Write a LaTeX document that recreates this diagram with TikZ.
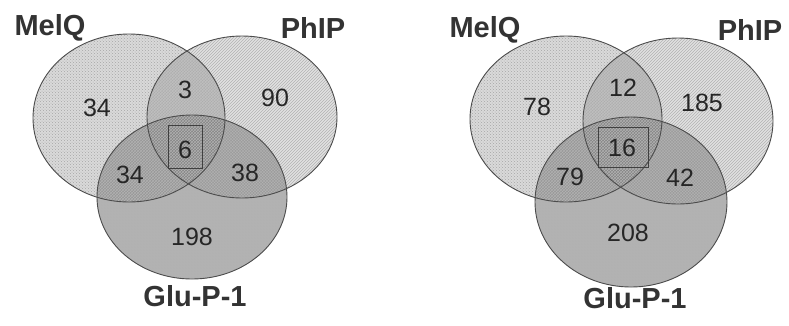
\documentclass[tikz,border=0pt]{standalone}
\usepackage{fontspec}
\setmainfont{Liberation Sans}
\usetikzlibrary{patterns}
\tikzset{
  setlabel/.style={font=\fontsize{29}{30}\selectfont\bfseries, text=black!80, inner sep=0pt},
  num/.style={font=\fontsize{25}{26}\selectfont, text=black!85, inner sep=0pt},
  corebox/.style={draw=black!75, line width=0.8pt, inner sep=0pt},
  outline/.style={draw=black!70, line width=0.9pt},
  fmel/.style={fill=black, fill opacity=0.15},
  fphi/.style={fill=black, fill opacity=0.12},
  fglu/.style={fill=black, fill opacity=0.30},
}
\begin{document}
\begin{tikzpicture}[x=1pt,y=-1pt]
\useasboundingbox (0,0) rectangle (789,325);
% ---------- left diagram ----------
\fill[fmel] (129,118) ellipse [x radius=96, y radius=84];
\fill[pattern=crosshatch dots, pattern color=black!35] (129,118) ellipse [x radius=96, y radius=84];
\fill[fphi] (242,117) ellipse [x radius=95, y radius=81];
\fill[pattern=north east lines, pattern color=black!30] (242,117) ellipse [x radius=95, y radius=81];
\fill[fglu] (192,197) ellipse [x radius=95, y radius=82];
\fill[pattern=crosshatch, pattern color=black!30] (192,197) ellipse [x radius=95, y radius=82];
\draw[outline] (129,118) ellipse [x radius=96, y radius=84];
\draw[outline] (242,117) ellipse [x radius=95, y radius=81];
\draw[outline] (192,197) ellipse [x radius=95, y radius=82];
\node[setlabel] (lmel) at (50,28) {MelQ};
\node[setlabel] (lphi) at (313,28) {PhIP};
\node[setlabel] (lglu) at (195,296) {Glu-P-1};
\node[num] (l1) at (97,108) {34};
\node[num] (l2) at (185,90) {3};
\node[num] (l3) at (275,98) {90};
\node[corebox, minimum width=34pt, minimum height=43pt] (lbox) at (185,146.5) {};
\node[num] (l4) at (185,150) {6};
\node[num] (l5) at (130,175) {34};
\node[num] (l6) at (245,173) {38};
\node[num] (l7) at (192,237) {198};
% ---------- right diagram ----------
\fill[fmel] (566,119) ellipse [x radius=96, y radius=83];
\fill[pattern=crosshatch dots, pattern color=black!35] (566,119) ellipse [x radius=96, y radius=83];
\fill[fphi] (678,121) ellipse [x radius=95, y radius=83];
\fill[pattern=north east lines, pattern color=black!30] (678,121) ellipse [x radius=95, y radius=83];
\fill[fglu] (631,202) ellipse [x radius=96, y radius=85];
\fill[pattern=crosshatch, pattern color=black!30] (631,202) ellipse [x radius=96, y radius=85];
\draw[outline] (566,119) ellipse [x radius=96, y radius=83];
\draw[outline] (678,121) ellipse [x radius=95, y radius=83];
\draw[outline] (631,202) ellipse [x radius=96, y radius=85];
\node[setlabel] (rmel) at (485,30) {MelQ};
\node[setlabel] (rphi) at (750,30) {PhIP};
\node[setlabel] (rglu) at (635,298) {Glu-P-1};
\node[num] (r1) at (537,107) {78};
\node[num] (r2) at (623,88) {12};
\node[num] (r3) at (702,103) {185};
\node[corebox, minimum width=50pt, minimum height=40pt] (rbox) at (623,147) {};
\node[num] (r4) at (622,148) {16};
\node[num] (r5) at (570,177) {79};
\node[num] (r6) at (680,178) {42};
\node[num] (r7) at (628,233) {208};
\end{tikzpicture}
\end{document}
